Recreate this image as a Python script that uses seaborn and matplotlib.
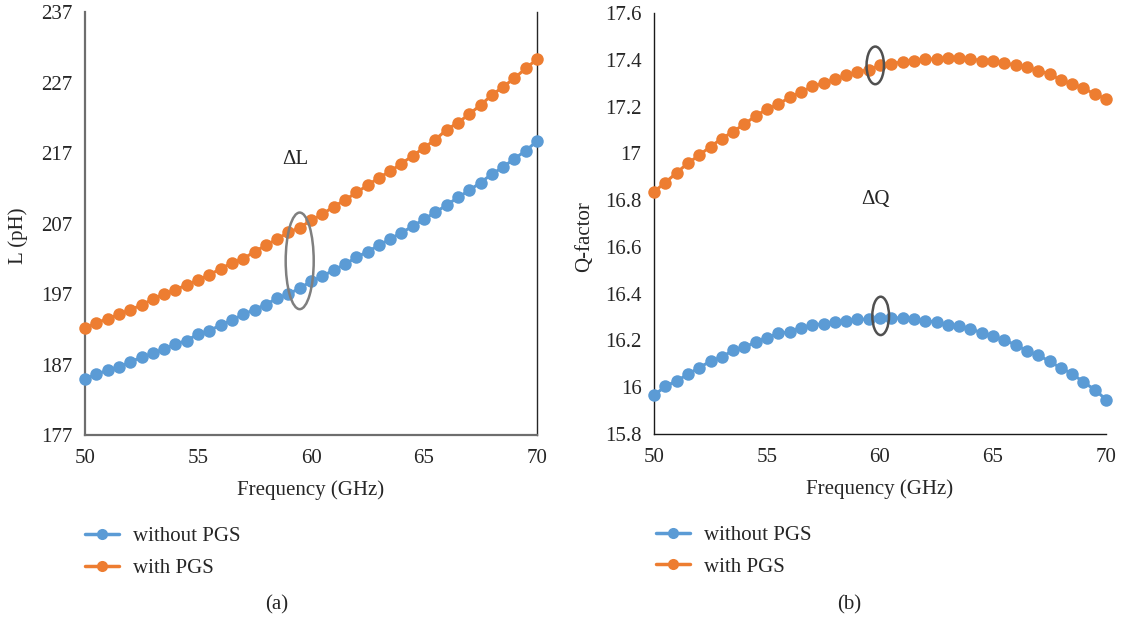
import numpy as np
import pandas as pd
import matplotlib
matplotlib.use("Agg")
import matplotlib.pyplot as plt
from matplotlib.patches import Ellipse
from matplotlib.lines import Line2D
import seaborn as sns

# ---------------- data ----------------
freq = [50.0, 50.5, 51.0, 51.5, 52.0, 52.5, 53.0, 53.5, 54.0, 54.5,
        55.0, 55.5, 56.0, 56.5, 57.0, 57.5, 58.0, 58.5, 59.0, 59.5,
        60.0, 60.5, 61.0, 61.5, 62.0, 62.5, 63.0, 63.5, 64.0, 64.5,
        65.0, 65.5, 66.0, 66.5, 67.0, 67.5, 68.0, 68.5, 69.0, 69.5, 70.0]

L_without = [185.0, 185.6, 186.2, 186.6, 187.4, 188.0, 188.6, 189.2, 189.9, 190.4,
             191.3, 191.8, 192.6, 193.3, 194.1, 194.8, 195.5, 196.4, 197.0, 197.8,
             198.8, 199.5, 200.4, 201.2, 202.2, 203.0, 203.9, 204.8, 205.7, 206.6,
             207.6, 208.6, 209.6, 210.7, 211.7, 212.8, 214.0, 215.0, 216.2, 217.3, 218.7]

L_with = [192.2, 192.9, 193.5, 194.1, 194.8, 195.4, 196.3, 197.0, 197.6, 198.3,
          199.0, 199.7, 200.6, 201.4, 202.0, 203.0, 203.9, 204.8, 205.75, 206.4,
          207.45, 208.3, 209.4, 210.3, 211.4, 212.4, 213.5, 214.4, 215.5, 216.6,
          217.75, 218.9, 220.3, 221.3, 222.5, 223.8, 225.2, 226.4, 227.6, 229.0, 230.3]

Q_without = [15.965, 16.004, 16.027, 16.055, 16.084, 16.111, 16.129, 16.158, 16.170, 16.194,
             16.212, 16.230, 16.236, 16.255, 16.265, 16.272, 16.279, 16.284, 16.290, 16.291,
             16.298, 16.294, 16.298, 16.291, 16.284, 16.279, 16.265, 16.261, 16.251, 16.232,
             16.219, 16.201, 16.182, 16.155, 16.137, 16.111, 16.082, 16.058, 16.022, 15.990, 15.947]

Q_with = [16.836, 16.875, 16.917, 16.958, 16.992, 17.029, 17.063, 17.093, 17.125, 17.160,
          17.189, 17.209, 17.240, 17.262, 17.286, 17.300, 17.317, 17.333, 17.347, 17.358,
          17.376, 17.383, 17.391, 17.396, 17.403, 17.403, 17.406, 17.406, 17.404, 17.396,
          17.393, 17.386, 17.377, 17.367, 17.354, 17.339, 17.314, 17.297, 17.279, 17.253, 17.233]

series_names = ["without PGS", "with PGS"]
colors = ["#5B9BD5", "#ED7D31"]

L_ticks = [177, 187, 197, 207, 217, 227, 237]
Q_ticks = [15.8, 16.0, 16.2, 16.4, 16.6, 16.8, 17.0, 17.2, 17.4, 17.6]
x_ticks = [50, 55, 60, 65, 70]

# ---------------- style ----------------
sns.set_theme(style="white")
plt.rcParams["font.family"] = ["Liberation Serif", "DejaVu Serif"]
FS = 15
TXT = "#262626"

n = len(freq)
dfL = pd.DataFrame({"Frequency": freq * 2,
                    "value": L_without + L_with,
                    "Series": [series_names[0]] * n + [series_names[1]] * n})
dfQ = pd.DataFrame({"Frequency": freq * 2,
                    "value": Q_without + Q_with,
                    "Series": [series_names[0]] * n + [series_names[1]] * n})

fig = plt.figure(figsize=(11.22, 6.21), dpi=100)
axL = fig.add_axes([85 / 1122, 1 - 435 / 621, 452 / 1122, 423 / 621])
axQ = fig.add_axes([654 / 1122, 1 - 434 / 621, 452 / 1122, 421 / 621])

palette = dict(zip(series_names, colors))
for ax, df in ((axL, dfL), (axQ, dfQ)):
    sns.lineplot(data=df, x="Frequency", y="value", hue="Series", hue_order=series_names,
                 palette=palette, marker="o", markersize=9, markeredgewidth=0,
                 linewidth=2.2, ax=ax, legend=False, clip_on=False, zorder=3)
    ax.set_xlim(50, 70)
    ax.set_xticks(x_ticks)
    ax.set_xticklabels([str(t) for t in x_ticks])
    ax.tick_params(axis="both", length=0, labelsize=FS, colors=TXT)
    ax.tick_params(axis="x", pad=10)
    ax.tick_params(axis="y", pad=9)
    ax.set_xlabel("Frequency (GHz)", fontsize=FS, color=TXT)
    ax.xaxis.set_label_coords(0.5, -0.108)
    ax.grid(False)
    ax.spines["top"].set_visible(False)

# left panel
axL.set_ylim(177, 237)
axL.set_yticks(L_ticks)
axL.set_yticklabels([str(t) for t in L_ticks])
axL.set_ylabel("L (pH)", fontsize=FS, color=TXT)
axL.yaxis.set_label_coords(-0.125, 0.47)
for s in ("left", "bottom"):
    axL.spines[s].set_color("#6e6e6e")
    axL.spines[s].set_linewidth(1.6)
axL.spines["right"].set_color("#262626")
axL.spines["right"].set_linewidth(1.0)

# right panel
axQ.set_ylim(15.8, 17.6)
axQ.set_yticks(Q_ticks)
axQ.set_yticklabels(["{:g}".format(t) for t in Q_ticks])
axQ.set_ylabel("Q-factor", fontsize=FS, color=TXT)
axQ.yaxis.set_label_coords(-0.133, 0.47)
axQ.spines["right"].set_visible(False)
for s in ("left", "bottom"):
    axQ.spines[s].set_color("#1a1a1a")
    axQ.spines[s].set_linewidth(1.0)

# annotations
axL.add_patch(Ellipse((59.5, 201.7), 1.24, 13.7, fill=False, edgecolor="#7f7f7f", linewidth=1.8, zorder=4))
axL.text(59.3, 216.1, "ΔL", ha="center", va="center", fontsize=FS, color=TXT)
axQ.add_patch(Ellipse((59.79, 17.376), 0.77, 0.161, fill=False, edgecolor="#505050", linewidth=1.8, zorder=4))
axQ.add_patch(Ellipse((60.03, 16.305), 0.74, 0.164, fill=False, edgecolor="#505050", linewidth=1.8, zorder=4))
axQ.text(59.8, 16.803, "ΔQ", ha="center", va="center", fontsize=FS, color=TXT)

# legends
handles = [Line2D([0], [0], color=c, linewidth=2.5, marker="o", markersize=8, markeredgewidth=0)
           for c in colors]
for ax, xa in ((axL, 0.0), (axQ, 0.004)):
    leg = ax.legend(handles, series_names, loc="upper left", bbox_to_anchor=(xa, -0.217),
                    frameon=False, fontsize=FS, borderaxespad=0, borderpad=0,
                    handlelength=1.65, handletextpad=0.65, labelspacing=0.58)
    for t in leg.get_texts():
        t.set_color(TXT)

fig.text(277 / 1122, 1 - 605 / 621, "(a)", ha="center", va="center", fontsize=FS, color=TXT)
fig.text(849 / 1122, 1 - 605 / 621, "(b)", ha="center", va="center", fontsize=FS, color=TXT)

fig.savefig("out.png", dpi=100)
